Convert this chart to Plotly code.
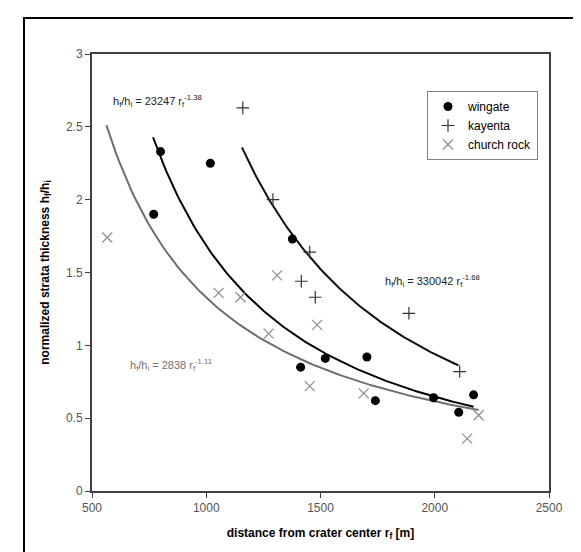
import numpy as np
import plotly.graph_objects as go

# ---- data ----
wingate_x = [770, 800, 1018, 1377, 1413, 1521, 1703, 1740, 1995, 2105, 2170]
wingate_y = [1.90, 2.33, 2.25, 1.73, 0.85, 0.91, 0.92, 0.62, 0.64, 0.54, 0.66]

kayenta_x = [1160, 1292, 1416, 1453, 1477, 1887, 2109]
kayenta_y = [2.63, 2.00, 1.44, 1.64, 1.33, 1.22, 0.82]

church_x = [567, 1054, 1150, 1273, 1310, 1453, 1485, 1689, 2142, 2192]
church_y = [1.74, 1.36, 1.33, 1.08, 1.48, 0.72, 1.14, 0.67, 0.36, 0.52]

# power-law fits printed on the chart: h = a * r^b, drawn over [start, end]
fit_wingate = dict(a=23247, b=-1.38, start=767, end=2170)
fit_kayenta = dict(a=330042, b=-1.68, start=1156, end=2104)
fit_church = dict(a=2838, b=-1.11, start=563, end=2192)

x_ticks = [500, 1000, 1500, 2000, 2500]
y_ticks = [0, 0.5, 1, 1.5, 2, 2.5, 3]


def fit_curve(f):
    xs = np.linspace(f["start"], f["end"], 120)
    return xs, f["a"] * xs ** f["b"]


fig = go.Figure()

for f, col in [(fit_church, "#6e6e6e"), (fit_wingate, "#000000"), (fit_kayenta, "#111111")]:
    cx, cy = fit_curve(f)
    fig.add_trace(go.Scatter(x=cx, y=cy, mode="lines", line=dict(color=col, width=2),
                             showlegend=False, hoverinfo="skip"))

fig.add_trace(go.Scatter(x=wingate_x, y=wingate_y, mode="markers", name="wingate",
                         marker=dict(symbol="circle", size=9, color="#000000")))
fig.add_trace(go.Scatter(x=kayenta_x, y=kayenta_y, mode="markers", name="kayenta",
                         marker=dict(symbol="cross-thin", size=9,
                                     line=dict(color="#333333", width=1.2))))
fig.add_trace(go.Scatter(x=church_x, y=church_y, mode="markers", name="church rock",
                         marker=dict(symbol="x-thin", size=10,
                                     line=dict(color="#8c8c8c", width=1.2))))

W, H = 581, 552
L, R, T, B = 84, 541, 46, 483
pw, ph = R - L, B - T


def px(xp):
    return (xp - L) / pw


def py(yp):
    return 1 - (yp - T) / ph


axis_common = dict(showgrid=False, zeroline=False, showline=True, linecolor="#404040",
                   linewidth=2, mirror=True, ticks="outside", ticklen=5, tickwidth=1,
                   tickcolor="#404040", tickfont=dict(family="Liberation Sans", size=12, color="#555555"))

fig.update_xaxes(range=[500, 2500], tickvals=x_ticks, ticktext=[str(v) for v in x_ticks],
                 title=dict(text="<b>distance from crater center r<sub>f</sub> [m]</b>",
                            font=dict(family="Liberation Sans", size=12, color="#000000"),
                            standoff=14),
                 **axis_common)
fig.update_yaxes(range=[0, 3], tickvals=y_ticks, ticktext=["0", "0.5", "1", "1.5", "2", "2.5", "3"],
                 title=dict(text="<b>normalized strata thickness h<sub>f</sub>/h<sub>i</sub></b>",
                            font=dict(family="Liberation Sans", size=12, color="#000000"),
                            standoff=14),
                 **axis_common)

ann_font = dict(family="Liberation Sans", size=11)
annotations = [
    dict(text="h<sub>f</sub>/h<sub>i</sub> = 23247 r<sub>f</sub><sup>-1.38</sup>",
         x=px(103), y=py(93), xanchor="left", yanchor="middle",
         font=dict(color="#222222", **ann_font)),
    dict(text="h<sub>f</sub>/h<sub>i</sub> = 330042 r<sub>f</sub><sup>-1.68</sup>",
         x=px(375), y=py(273), xanchor="left", yanchor="middle",
         font=dict(color="#222222", **ann_font)),
    dict(text="h<sub>f</sub>/h<sub>i</sub> = 2838 r<sub>f</sub><sup>-1.11</sup>",
         x=px(120), y=py(357), xanchor="left", yanchor="middle",
         font=dict(color="#707070", **ann_font)),
]
for a in annotations:
    a.update(xref="paper", yref="paper", showarrow=False)

fig.update_layout(
    width=W, height=H,
    margin=dict(l=L, r=W - R, t=T, b=H - B),
    paper_bgcolor="white", plot_bgcolor="white",
    annotations=annotations,
    legend=dict(x=px(419), y=py(83), xanchor="left", yanchor="top",
                bordercolor="#808080", borderwidth=1, bgcolor="white",
                font=dict(family="Liberation Sans", size=12, color="#000000"),
                itemwidth=30, tracegroupgap=0),
    shapes=[dict(type="rect", xref="paper", yref="paper",
                 x0=px(16), y0=py(620), x1=px(640), y1=py(10),
                 line=dict(color="#000000", width=2), layer="below")],
)

fig.write_html("out.html")
